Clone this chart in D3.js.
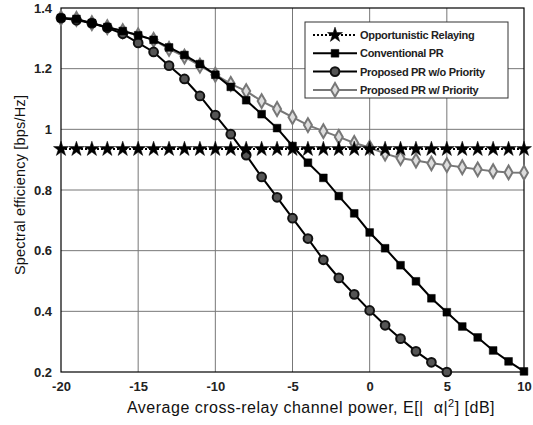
<!DOCTYPE html>
<html>
<head>
<meta charset="utf-8">
<script src="https://cdn.jsdelivr.net/npm/d3@7"></script>
<style>
body { margin: 0; background: #fff; }
svg { font-family: "Liberation Sans", Arial, sans-serif; }
</style>
</head>
<body>
<svg width="533" height="425"></svg>
<script>
// x values (dB)
var xs = d3.range(-20, 11);
var xsShort = d3.range(-20, 6);

var opportunistic = xs.map(function() { return 0.935; });
var conventional = [1.367, 1.364, 1.35, 1.337, 1.324, 1.31, 1.295, 1.27, 1.245, 1.215, 1.18,
  1.14, 1.096, 1.05, 1.004, 0.945, 0.89, 0.84, 0.78, 0.723, 0.66,
  0.608, 0.552, 0.499, 0.443, 0.397, 0.35, 0.314, 0.271, 0.235, 0.202];
var noPriority = [1.367, 1.36, 1.35, 1.335, 1.315, 1.285, 1.255, 1.21, 1.166, 1.11, 1.047,
  0.984, 0.915, 0.843, 0.776, 0.707, 0.64, 0.57, 0.51, 0.456, 0.403,
  0.354, 0.31, 0.268, 0.232, 0.2];
var withPriority = [1.367, 1.364, 1.35, 1.337, 1.324, 1.31, 1.295, 1.265, 1.24, 1.21, 1.18,
  1.15, 1.126, 1.093, 1.067, 1.04, 1.014, 0.994, 0.975, 0.955, 0.94,
  0.92, 0.905, 0.897, 0.888, 0.882, 0.875, 0.868, 0.862, 0.858, 0.857];

var xTicks = [-20, -15, -10, -5, 0, 5, 10];
var yTicks = [0.2, 0.4, 0.6, 0.8, 1, 1.2, 1.4];
var legendNames = ["Opportunistic Relaying", "Conventional PR", "Proposed PR w/o Priority", "Proposed PR w/ Priority"];

var svg = d3.select("svg");
var pLeft = 61, pRight = 524, pTop = 8, pBottom = 372;

var x = d3.scaleLinear().domain([-20, 10]).range([pLeft, pRight]);
var y = d3.scaleLinear().domain([0.2, 1.4]).range([pBottom, pTop]);

// grid
svg.append("g").selectAll("line").data(xTicks.slice(1, -1)).join("line")
  .attr("x1", function(d) { return x(d); }).attr("x2", function(d) { return x(d); })
  .attr("y1", pTop).attr("y2", pBottom)
  .attr("stroke", "#777").attr("stroke-width", 1);
svg.append("g").selectAll("line").data(yTicks.slice(1, -1)).join("line")
  .attr("y1", function(d) { return y(d); }).attr("y2", function(d) { return y(d); })
  .attr("x1", pLeft).attr("x2", pRight)
  .attr("stroke", "#777").attr("stroke-width", 1);

// axes
var xAxis = svg.append("g").attr("transform", "translate(0," + pBottom + ")")
  .call(d3.axisBottom(x).tickValues(xTicks).tickSize(0).tickPadding(10).tickFormat(function(d) { return String(d); }));
var yAxis = svg.append("g").attr("transform", "translate(" + pLeft + ",0)")
  .call(d3.axisLeft(y).tickValues(yTicks).tickSize(0).tickPadding(9).tickFormat(function(d) { return d == 1 ? "1" : d3.format(".1f")(d); }));
[xAxis, yAxis].forEach(function(a) {
  a.select(".domain").remove();
  a.selectAll("text").attr("font-size", 13).attr("font-weight", "bold").attr("fill", "#222")
    .attr("font-family", "Liberation Sans, Arial, sans-serif");
});

svg.append("rect").attr("x", pLeft).attr("y", pTop).attr("width", pRight - pLeft).attr("height", pBottom - pTop)
  .attr("fill", "none").attr("stroke", "#000").attr("stroke-width", 1.2);

// markers
var star = d3.symbol().type(d3.symbolStar).size(70);
var square = d3.symbol().type(d3.symbolSquare).size(60);
var circle = d3.symbol().type(d3.symbolCircle).size(60);
var diamond = d3.symbol().type(d3.symbolDiamond).size(55);

var series = [
  {name: legendNames[0], xv: xs, yv: opportunistic, line: "#000", dash: "2,2", sym: star, fill: "#000", stroke: "#000", sw: 0.5},
  {name: legendNames[1], xv: xs, yv: conventional, line: "#000", dash: null, sym: square, fill: "#000", stroke: "#000", sw: 0.5},
  {name: legendNames[2], xv: xsShort, yv: noPriority, line: "#000", dash: null, sym: circle, fill: "#555", stroke: "#111", sw: 2},
  {name: legendNames[3], xv: xs, yv: withPriority, line: "#777", dash: null, sym: diamond, fill: "#ddd", stroke: "#777", sw: 2}
];

var line = d3.line().x(function(d) { return x(d[0]); }).y(function(d) { return y(d[1]); });

// draw in reverse so black curves sit on top
series.slice().reverse().forEach(function(s) {
  var pts = s.xv.map(function(v, i) { return [v, s.yv[i]]; });
  svg.append("path").datum(pts).attr("d", line)
    .attr("fill", "none").attr("stroke", s.line).attr("stroke-width", 2)
    .attr("stroke-dasharray", s.dash);
  svg.append("g").selectAll("path").data(pts).join("path")
    .attr("transform", function(d) { return "translate(" + x(d[0]) + "," + y(d[1]) + ")"; })
    .attr("d", s.sym)
    .attr("fill", s.fill).attr("stroke", s.stroke).attr("stroke-width", s.sw);
});

// legend
var lg = svg.append("g");
lg.append("rect").attr("x", 305).attr("y", 22).attr("width", 203).attr("height", 76)
  .attr("fill", "#fff").attr("stroke", "#333").attr("stroke-width", 1);
series.forEach(function(s, i) {
  var ly = 35 + i * 18.3;
  lg.append("line").attr("x1", 313).attr("x2", 357).attr("y1", ly).attr("y2", ly)
    .attr("stroke", s.line).attr("stroke-width", 2).attr("stroke-dasharray", s.dash);
  lg.append("path").attr("transform", "translate(335," + ly + ")").attr("d", s.sym)
    .attr("fill", s.fill).attr("stroke", s.stroke).attr("stroke-width", s.sw);
  lg.append("text").attr("x", 360).attr("y", ly + 4).text(s.name)
    .attr("font-size", 11).attr("font-weight", "bold").attr("fill", "#222").attr("letter-spacing", -0.3);
});

// axis labels
svg.append("text").attr("x", 311).attr("y", 413).attr("text-anchor", "middle")
  .attr("font-size", 16).attr("letter-spacing", 0.5).attr("fill", "#111")
  .html("Average cross-relay channel power, E[|&#160;&#160;&#945;|<tspan dy='-6' font-size='11'>2</tspan><tspan dy='6'>] [dB]</tspan>");
svg.append("text").attr("transform", "translate(25,185) rotate(-90)").attr("text-anchor", "middle")
  .attr("font-size", 14.5).attr("letter-spacing", 0.2).attr("fill", "#111").text("Spectral efficiency [bps/Hz]");
</script>
</body>
</html>
